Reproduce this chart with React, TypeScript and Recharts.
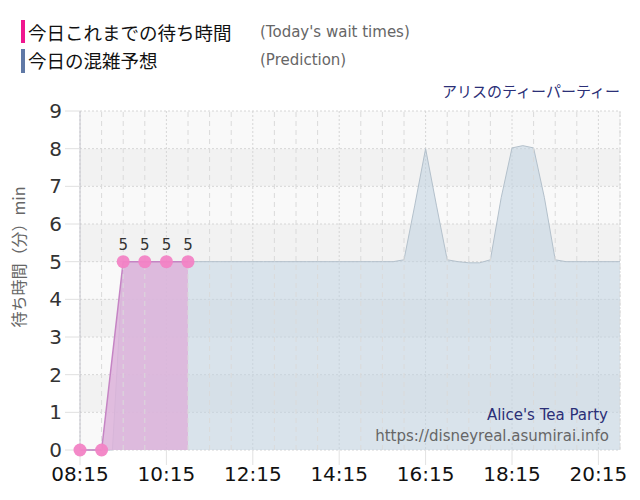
import React from 'react';
import { ComposedChart, Area, XAxis, YAxis, CartesianGrid, ReferenceLine, LabelList } from 'recharts';

const times = [
  '08:15','08:30','08:45','09:00','09:15','09:30','09:45','10:00','10:15','10:30','10:45','11:00',
  '11:15','11:30','11:45','12:00','12:15','12:30','12:45','13:00','13:15','13:30','13:45','14:00',
  '14:15','14:30','14:45','15:00','15:15','15:30','15:45','16:00','16:15','16:30','16:45','17:00',
  '17:15','17:30','17:45','18:00','18:15','18:30','18:45','19:00','19:15','19:30','19:45','20:00',
  '20:15','20:30','20:45',
];

const actualWait: (number | null)[] = [
  0, null, 0, null, 5, null, 5, null, 5, null, 5,
];

const predicted: number[] = [
  0, 0, 0, 0, 5, 5, 5, 5, 5, 5, 5, 5,
  5, 5, 5, 5, 5, 5, 5, 5, 5, 5, 5, 5,
  5, 5, 5, 5, 5, 5, 5.05, 6.5, 8, 6.5, 5.05, 5,
  4.97, 4.97, 5.05, 6.7, 8.02, 8.08, 8.02, 6.7, 5.05, 5, 5, 5,
  5, 5, 5,
];

const xTicks = ['08:15', '10:15', '12:15', '14:15', '16:15', '18:15', '20:15'];
const halfHourLines = [
  '08:45','09:15','09:45','10:45','11:15','11:45','12:45','13:15','13:45','14:45','15:15','15:45',
  '16:45','17:15','17:45','18:45','19:15','19:45','20:45',
];
const yTicks = [0, 1, 2, 3, 4, 5, 6, 7, 8, 9];

const data = times.map((t, i) => ({
  time: t,
  actual: i < actualWait.length ? actualWait[i] : null,
  pred: predicted[i],
}));

const numFont = '"DejaVu Sans", Verdana, sans-serif';
const jpFont = '"Noto Sans CJK JP", "DejaVu Sans", sans-serif';

export default function App() {
  return (
    <div style={{ position: 'absolute', left: 0, top: 0, width: 640, height: 500, background: '#fff' }}>
      <ComposedChart width={640} height={500} data={data} margin={{ top: 111, right: 20, bottom: 0, left: 0 }}>
        <CartesianGrid
          stroke="#d6d6d6"
          strokeDasharray="2 2"
          fill="#f8f8f8"
          horizontalFill={['#f9f9f9', '#f2f2f2']}
          fillOpacity={1}
        />
        {halfHourLines.map((t) => (
          <ReferenceLine key={t} x={t} stroke="#dadada" strokeDasharray="5 4" />
        ))}
        <XAxis
          dataKey="time"
          type="category"
          scale="point"
          ticks={xTicks}
          interval={0}
          tickSize={15}
          tickMargin={2}
          axisLine={false}
          tickLine={{ stroke: '#e2e2e2' }}
          height={50}
          tick={{ fontSize: 20, fill: '#111', fontFamily: numFont }}
        />
        <YAxis
          domain={[0, 9]}
          ticks={yTicks}
          interval={0}
          width={80}
          tickSize={15}
          tickMargin={3}
          axisLine={{ stroke: '#c4c4cc' }}
          tickLine={{ stroke: '#e0e0e0' }}
          tick={{ fontSize: 20, fill: '#333', fontFamily: numFont }}
        />
        <Area
          dataKey="pred"
          type="linear"
          stroke="#b3c0cb"
          strokeWidth={1}
          fill="#c0d2e0"
          fillOpacity={0.55}
          dot={false}
          activeDot={false}
          isAnimationActive={false}
        />
        <Area
          dataKey="actual"
          type="linear"
          connectNulls
          stroke="#c584c4"
          strokeWidth={1.5}
          fill="#ddb3da"
          fillOpacity={0.85}
          dot={{ r: 6.5, fill: '#f283c5', stroke: 'none', fillOpacity: 0.95 }}
          activeDot={false}
          isAnimationActive={false}
        >
          <LabelList
            dataKey="actual"
            position="top"
            offset={12}
            formatter={(v: any) => (v > 0 ? v : '')}
            style={{ fontSize: 15, fill: '#333', fontFamily: numFont }}
          />
        </Area>
      </ComposedChart>
      <svg width={640} height={500} style={{ position: 'absolute', left: 0, top: 0, pointerEvents: 'none' }}>
        <rect x={21} y={20} width={4} height={23} fill="#f0168f" />
        <text x={28} y={32} dominantBaseline="central" fontSize={18.5} fontFamily={jpFont} fill="#111">今日これまでの待ち時間</text>
        <text x={260} y={32} dominantBaseline="central" fontSize={15} fontFamily={numFont} fill="#666">(Today's wait times)</text>
        <rect x={21} y={49} width={4} height={24} fill="#6079a6" />
        <text x={28} y={60} dominantBaseline="central" fontSize={18.5} fontFamily={jpFont} fill="#111">今日の混雑予想</text>
        <text x={260} y={60} dominantBaseline="central" fontSize={15} fontFamily={numFont} fill="#666">(Prediction)</text>
        <text x={620} y={90} textAnchor="end" dominantBaseline="central" fontSize={15} fontFamily={jpFont} fill="#2b2f77">アリスのティーパーティー</text>
        <text x={608} y={415} textAnchor="end" dominantBaseline="central" fontSize={15} fontFamily={numFont} fill="#2b2f77">Alice's Tea Party</text>
        <text x={609} y={436} textAnchor="end" dominantBaseline="central" fontSize={15} fontFamily={numFont} fill="#666">https://disneyreal.asumirai.info</text>
        <text
          x={18}
          y={257}
          textAnchor="middle"
          dominantBaseline="central"
          fontSize={16}
          fontFamily={jpFont}
          fill="#666"
          transform="rotate(-90 18 257)"
        >待ち時間（分）min</text>
      </svg>
    </div>
  );
}
